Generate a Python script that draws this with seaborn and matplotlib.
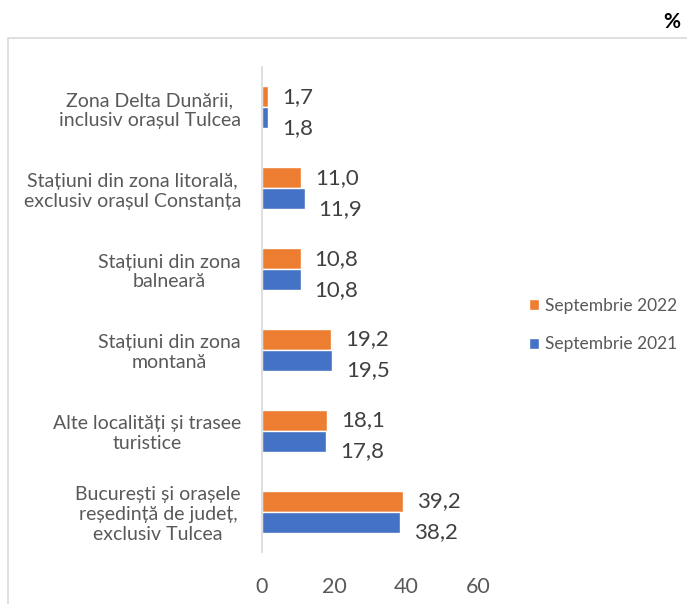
import pandas as pd
import matplotlib.pyplot as plt
import seaborn as sns
from matplotlib.patches import Rectangle

# categories, top to bottom as in the chart
categories = [
    'Zona Delta Dunării,\ninclusiv orașul Tulcea',
    'Stațiuni din zona litorală,\nexclusiv orașul Constanța',
    'Stațiuni din zona\nbalneară',
    'Stațiuni din zona\nmontană',
    'Alte localități și trasee\nturistice',
    'București și orașele\nreședință de județ,\nexclusiv Tulcea',
]
sept_2022 = [1.7, 11.0, 10.8, 19.2, 18.1, 39.2]
sept_2021 = [1.8, 11.9, 10.8, 19.5, 17.8, 38.2]
series_names = ['Septembrie 2022', 'Septembrie 2021']
x_ticks = [0, 20, 40, 60]

colors = ['#ED7D31', '#4472C4']
text_grey = '#595959'

df = pd.DataFrame({
    'categorie': categories * 2,
    'valoare': sept_2022 + sept_2021,
    'serie': [series_names[0]] * len(categories) + [series_names[1]] * len(categories),
})

sns.set_style('white')
plt.rcParams['font.family'] = ['Lato', 'DejaVu Sans']

fig = plt.figure(figsize=(6.87, 6.04), dpi=100)
ax = fig.add_axes([0.381, 0.086, 0.315, 0.803])

sns.barplot(data=df, y='categorie', x='valoare', hue='serie', hue_order=series_names,
            order=categories, palette=colors, orient='h', width=0.52, ax=ax,
            errorbar=None, saturation=1)

# value labels (comma as decimal separator)
for container, dy in zip(ax.containers, [0, -10]):
    for bar in container:
        w = bar.get_width()
        yc = bar.get_y() + bar.get_height() / 2
        ax.annotate(f'{w:.1f}'.replace('.', ','), xy=(w, yc), xytext=(14, dy),
                    textcoords='offset pixels', ha='left', va='center',
                    fontsize=16, color='#404040')

ax.set_xlim(0, 60)
ax.set_xticks(x_ticks)
ax.set_xticklabels([str(t) for t in x_ticks], fontsize=15.5, color=text_grey)
ax.set_yticklabels(categories, fontsize=14, color=text_grey, ha='right',
                   multialignment='center', linespacing=1.2)
ax.tick_params(axis='y', length=0, pad=15)
ax.tick_params(axis='x', length=0, pad=18)
ax.set_xlabel('')
ax.set_ylabel('')
for s in ['top', 'right', 'bottom']:
    ax.spines[s].set_visible(False)
ax.spines['left'].set_color('#d9d9d9')
ax.spines['left'].set_linewidth(1.2)

handles, labels = ax.get_legend_handles_labels()
ax.legend(handles, labels, loc='center left', bbox_to_anchor=(522 / 687, 1 - 325 / 604),
          bbox_transform=fig.transFigure, frameon=False, fontsize=12.5,
          labelcolor=text_grey, handlelength=0.6, handleheight=0.6,
          handletextpad=0.3, labelspacing=1.3, borderaxespad=0)

# outer chart frame (cut at right and bottom)
fig.patches.append(Rectangle((8 / 687, -0.05), 1.0, 1 - 38 / 604 + 0.05,
                             transform=fig.transFigure, fill=False,
                             edgecolor='#d9d9d9', linewidth=1.2))
fig.text(672 / 687, 1 - 22 / 604, '%', fontsize=15, fontweight='bold',
         ha='center', va='center', color='black')

fig.savefig('out.png', dpi=100)
